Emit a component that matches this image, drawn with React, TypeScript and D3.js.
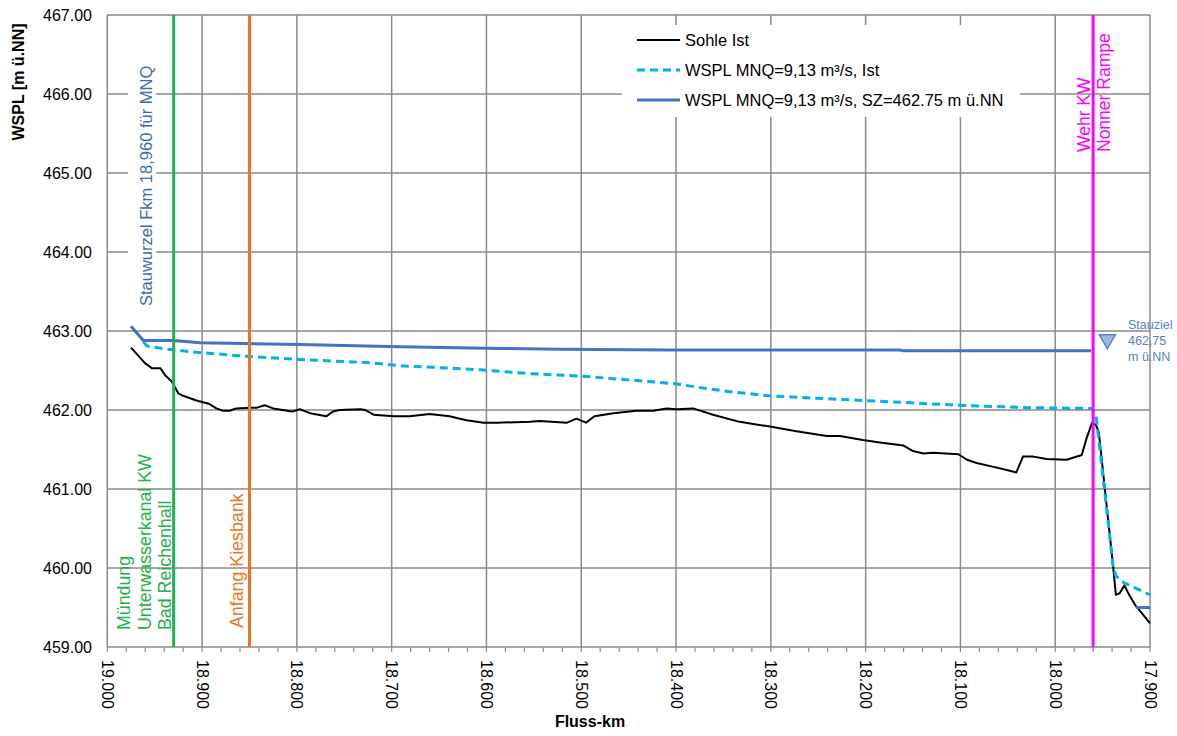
import React from "react";
import * as d3 from "d3";

const W = 1177;
const H = 736;

// x axis ticks (Fluss-km) and y axis ticks (WSPL)
const xTicks = [19.0, 18.9, 18.8, 18.7, 18.6, 18.5, 18.4, 18.3, 18.2, 18.1, 18.0, 17.9];
const yTicks = [459, 460, 461, 462, 463, 464, 465, 466, 467];

// Sohle Ist
const sohleKm = [18.975, 18.96, 18.953, 18.944, 18.939, 18.932, 18.925, 18.92, 18.906, 18.893, 18.885, 18.878, 18.871, 18.864, 18.849, 18.842, 18.834, 18.825, 18.805, 18.797, 18.786, 18.769, 18.762, 18.755, 18.733, 18.728, 18.719, 18.698, 18.681, 18.66, 18.639, 18.621, 18.603, 18.589, 18.554, 18.544, 18.515, 18.505, 18.495, 18.486, 18.466, 18.442, 18.424, 18.41, 18.399, 18.382, 18.361, 18.333, 18.301, 18.273, 18.241, 18.227, 18.203, 18.185, 18.16, 18.15, 18.139, 18.129, 18.102, 18.093, 18.083, 18.065, 18.051, 18.041, 18.034, 18.023, 18.009, 17.988, 17.972, 17.967, 17.961, 17.957, 17.954, 17.939, 17.936, 17.932, 17.927, 17.922, 17.915, 17.908, 17.9];
const sohleVal = [462.79, 462.59, 462.53, 462.53, 462.44, 462.36, 462.21, 462.18, 462.12, 462.08, 462.02, 461.99, 461.99, 462.02, 462.03, 462.03, 462.06, 462.02, 461.98, 462.01, 461.96, 461.92, 461.98, 462.0, 462.01, 462.0, 461.94, 461.92, 461.92, 461.95, 461.92, 461.87, 461.84, 461.84, 461.85, 461.86, 461.84, 461.89, 461.84, 461.92, 461.96, 461.99, 461.99, 462.02, 462.01, 462.02, 461.94, 461.85, 461.79, 461.73, 461.67, 461.67, 461.62, 461.59, 461.55, 461.48, 461.45, 461.46, 461.44, 461.37, 461.33, 461.28, 461.24, 461.21, 461.41, 461.41, 461.38, 461.37, 461.43, 461.64, 461.84, 461.81, 461.72, 460.03, 459.66, 459.68, 459.78, 459.66, 459.52, 459.42, 459.3];

// WSPL MNQ=9,13 m³/s, Ist
const istKm = [18.962, 18.958, 18.937, 18.906, 18.853, 18.797, 18.726, 18.691, 18.656, 18.607, 18.554, 18.501, 18.449, 18.399, 18.378, 18.343, 18.301, 18.255, 18.185, 18.101, 18.03, 17.962, 17.957, 17.939, 17.936, 17.927, 17.914, 17.9];
const istVal = [462.86, 462.81, 462.77, 462.73, 462.68, 462.64, 462.6, 462.56, 462.54, 462.51, 462.46, 462.43, 462.38, 462.33, 462.29, 462.23, 462.18, 462.15, 462.11, 462.06, 462.03, 462.02, 461.94, 460.03, 459.9, 459.81, 459.74, 459.66];

// WSPL MNQ=9,13 m³/s, SZ=462.75 m ü.NN (null = gap)
const szKm = [18.975, 18.962, 18.93, 18.902, 18.797, 18.691, 18.586, 18.522, 18.406, 18.164, 18.16, 17.962, 17.94, 17.915, 17.9];
const szVal: (number | null)[] = [463.06, 462.88, 462.88, 462.85, 462.83, 462.8, 462.78, 462.77, 462.76, 462.76, 462.75, 462.75, null, 459.5, 459.5];

// marker positions (km)
const kmMuendung = 18.93;
const kmKiesbank = 18.85;
const kmWehr = 17.96;
const stauziel = 462.75;

const FONT = "Arial, 'Liberation Sans', Helvetica, sans-serif";

export default function App() {
  const x = d3.scaleLinear().domain([19.0, 17.9]).range([107.3, 1150]);
  const y = d3.scaleLinear().domain([459, 467]).range([647, 15]);

  const minorTicks = d3.range(0, 56).map((i) => 19.0 - i * 0.02);

  const line = d3
    .line<[number, number | null]>()
    .defined((d) => d[1] !== null)
    .x((d) => x(d[0]))
    .y((d) => y(d[1] as number));

  const sohle = line(sohleKm.map((k, i) => [k, sohleVal[i]]));
  const ist = line(istKm.map((k, i) => [k, istVal[i]]));
  const sz = line(szKm.map((k, i) => [k, szVal[i]]));

  const gridC = "#8a8a8a";
  const blueText = "#3d6bb3";
  const green = "#22b14c";
  const orange = "#ed7423";
  const magenta = "#ff00ff";

  const left = x(19.0);
  const right = x(17.9);
  const top = y(467);
  const bottom = y(459);

  const tx = (km: number) => x(km);

  return (
    <svg width={W} height={H} style={{ position: "absolute", left: 0, top: 0, background: "#fff" }} fontFamily={FONT}>
      <rect x={0} y={0} width={W} height={H} fill="#fff" />
      {/* gridlines */}
      {xTicks.map((t) => (
        <line key={"gx" + t} x1={x(t)} x2={x(t)} y1={top} y2={bottom} stroke={gridC} strokeWidth={1.5} />
      ))}
      {yTicks.map((t) => (
        <line key={"gy" + t} x1={left} x2={right} y1={y(t)} y2={y(t)} stroke={gridC} strokeWidth={1.5} />
      ))}
      {/* minor ticks */}
      {minorTicks.map((t, i) => (
        <line key={"mt" + i} x1={x(t)} x2={x(t)} y1={bottom} y2={bottom + 5} stroke={gridC} strokeWidth={1.2} />
      ))}
      {/* legend background */}
      <rect x={622} y={25} width={398} height={92} fill="#fff" />
      {/* Stauwurzel label background */}
      <rect x={128} y={60} width={28} height={248} fill="#fff" />

      {/* y tick labels */}
      {yTicks.map((t) => (
        <text key={"yl" + t} x={92} y={y(t)} textAnchor="end" dominantBaseline="central" fontSize={16} fill="#000">
          {t.toFixed(2)}
        </text>
      ))}
      {/* x tick labels */}
      {xTicks.map((t) => (
        <text
          key={"xl" + t}
          transform={`translate(${x(t)},${660}) rotate(90)`}
          textAnchor="start"
          dominantBaseline="central"
          fontSize={16}
          fill="#000"
        >
          {t.toFixed(3)}
        </text>
      ))}

      {/* axis titles */}
      <text transform={`translate(24,82) rotate(-90)`} textAnchor="middle" fontSize={16} fontWeight="bold" fill="#000">
        WSPL [m ü.NN]
      </text>
      <text x={590} y={727} textAnchor="middle" fontSize={16} fontWeight="bold" fill="#000">
        Fluss-km
      </text>

      {/* series */}
      <path d={sohle ?? ""} fill="none" stroke="#000" strokeWidth={2} strokeLinejoin="round" />
      <path d={sz ?? ""} fill="none" stroke="#4472c4" strokeWidth={3} strokeLinejoin="round" />
      <path d={ist ?? ""} fill="none" stroke="#00b0f0" strokeWidth={3} strokeDasharray="8,5" strokeLinejoin="round" />

      {/* vertical marker lines */}
      <line x1={tx(kmMuendung)} x2={tx(kmMuendung)} y1={top} y2={bottom} stroke={green} strokeWidth={3} />
      <line x1={tx(kmKiesbank)} x2={tx(kmKiesbank)} y1={top} y2={bottom} stroke={orange} strokeWidth={3} />
      <line x1={tx(kmWehr)} x2={tx(kmWehr)} y1={top} y2={bottom} stroke={magenta} strokeWidth={3} />

      {/* vertical labels */}
      <text transform={`translate(152,306) rotate(-90)`} fontSize={16.5} fill={blueText}>
        Stauwurzel Fkm 18,960 für MNQ
      </text>
      <text transform={`translate(130,630) rotate(-90)`} fontSize={17.8} fill={green}>
        Mündung
      </text>
      <text transform={`translate(151,630) rotate(-90)`} fontSize={17.8} fill={green}>
        Unterwasserkanal KW
      </text>
      <text transform={`translate(171,630) rotate(-90)`} fontSize={17.8} fill={green}>
        Bad Reichenhall
      </text>
      <text transform={`translate(243,628) rotate(-90)`} fontSize={17.8} fill={orange}>
        Anfang Kiesbank
      </text>
      <text transform={`translate(1090,152) rotate(-90)`} fontSize={17.5} fill={magenta}>
        Wehr KW
      </text>
      <text transform={`translate(1110,152) rotate(-90)`} fontSize={17.5} fill={magenta}>
        Nonner Rampe
      </text>

      {/* Stauziel marker */}
      <path
        d={`M${x(17.945) - 8},${y(stauziel) - 16} L${x(17.945) + 8},${y(stauziel) - 16} L${x(17.945)},${y(stauziel) - 2} Z`}
        fill="#9fb7e3"
        stroke="#5a80c6"
        strokeWidth={1.5}
      />
      <text x={1128} y={329} fontSize={12.5} fill="#5a80c6">Stauziel</text>
      <text x={1128} y={345} fontSize={12.5} fill="#5a80c6">462,75</text>
      <text x={1128} y={361} fontSize={12.5} fill="#5a80c6">m ü.NN</text>

      {/* legend */}
      <line x1={637} x2={680} y1={40} y2={40} stroke="#000" strokeWidth={2} />
      <text x={685} y={40} dominantBaseline="central" fontSize={16.5} fill="#000">Sohle Ist</text>
      <line x1={637} x2={680} y1={70} y2={70} stroke="#00b0f0" strokeWidth={3} strokeDasharray="8,5" />
      <text x={685} y={70} dominantBaseline="central" fontSize={16.5} fill="#000">WSPL MNQ=9,13 m³/s, Ist</text>
      <line x1={637} x2={680} y1={100} y2={100} stroke="#4472c4" strokeWidth={3} />
      <text x={685} y={100} dominantBaseline="central" fontSize={16.5} fill="#000">WSPL MNQ=9,13 m³/s, SZ=462.75 m ü.NN</text>
    </svg>
  );
}
